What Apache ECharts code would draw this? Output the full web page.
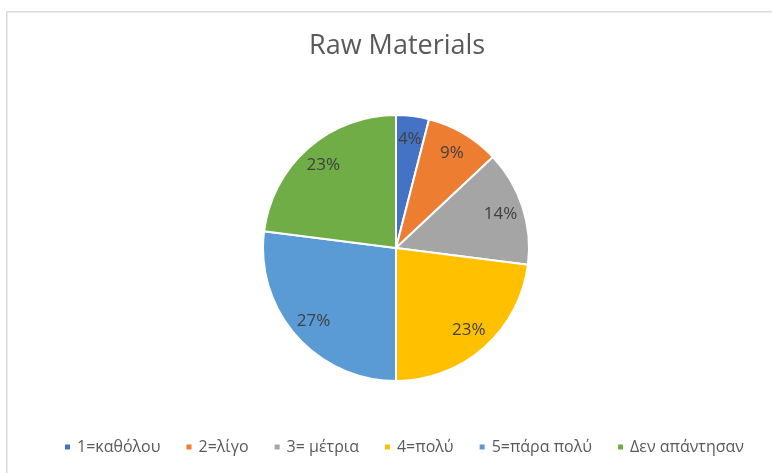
<!DOCTYPE html>
<html>
<head>
<meta charset="utf-8">
<script src="https://cdn.jsdelivr.net/npm/echarts@6/dist/echarts.min.js"></script>
<style>
  html, body { margin: 0; padding: 0; background: #fff; }
  #chart-container { width: 772px; height: 473px; }
</style>
</head>
<body>
<div id="chart-container"></div>
<script>
var categories = ['1=καθόλου', '2=λίγο', '3= μέτρια', '4=πολύ', '5=πάρα πολύ', 'Δεν απάντησαν'];
var values = [4, 9, 14, 23, 27, 23];
var colors = ['#4472C4', '#ED7D31', '#A5A5A5', '#FFC000', '#5B9BD5', '#70AD47'];

var chartDom = document.getElementById('chart-container');
var myChart = echarts.init(chartDom);

var pieData = categories.map(function (name, i) {
  return { name: name, value: values[i] };
});

var font = '"Open Sans", "Noto Sans", sans-serif';

var option = {
  color: colors,
  animation: false,
  title: {
    text: 'Raw Materials',
    left: 304,
    top: 28,
    textStyle: { fontFamily: font, fontSize: 27, fontWeight: 'normal', color: '#595959' }
  },
  legend: {
    bottom: 13,
    left: 58,
    icon: 'rect',
    itemWidth: 7,
    itemHeight: 7,
    itemGap: 24,
    textStyle: { fontFamily: font, fontSize: 16, color: '#595959', padding: [0, 0, 0, 1] },
    data: categories
  },
  graphic: [{
    type: 'rect',
    shape: { x: 6.75, y: 11.75, width: 820, height: 520 },
    style: { fill: 'none', stroke: '#d9d9d9', lineWidth: 1.5 },
    silent: true
  }],
  series: [
    {
      type: 'pie',
      center: [396, 248],
      radius: [0, 133],
      startAngle: 90,
      data: pieData,
      itemStyle: { borderColor: '#fff', borderWidth: 2 },
      label: { show: false },
      labelLine: { show: false },
      emphasis: { disabled: true }
    },
    {
      type: 'pie',
      center: [396, 248],
      radius: [81, 133],
      startAngle: 90,
      silent: true,
      data: pieData,
      itemStyle: { color: 'rgba(0,0,0,0)' },
      label: {
        show: true,
        position: 'inside',
        fontFamily: font,
        fontSize: 17,
        color: '#404040',
        formatter: function (p) { return Math.round(p.percent) + '%'; }
      },
      labelLine: { show: false },
      emphasis: { disabled: true }
    }
  ]
};

option && myChart.setOption(option);
</script>
</body>
</html>
